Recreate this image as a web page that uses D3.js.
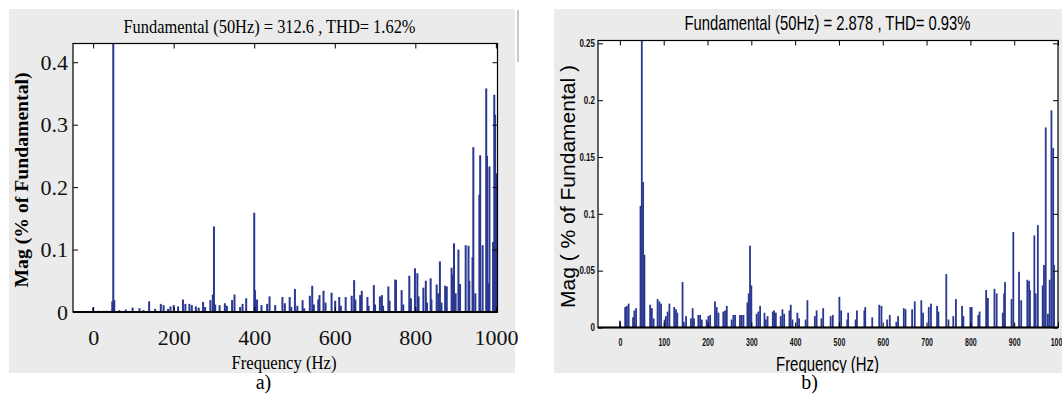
<!DOCTYPE html>
<html>
<head>
<meta charset="utf-8">
<script src="https://cdn.jsdelivr.net/npm/d3@7"></script>
<style>
  html, body { margin: 0; padding: 0; background: #ffffff; }
  svg { display: block; }
</style>
</head>
<body>
<svg id="fig" width="1062" height="394"></svg>
<script>
// ---- Spectrum a): harmonic magnitudes (% of fundamental) vs frequency (Hz)
const freqA = [0, 14, 26, 34, 45, 47.5, 50, 52.5, 65, 81, 98, 115, 125, 139, 154, 168, 175, 186, 192, 200,
  211, 223, 229, 239, 245, 255, 262, 273, 278, 291, 297, 300, 303, 314, 327, 332, 345, 351, 365, 371,
  380, 400, 402, 407, 418, 432, 438, 452, 470, 476, 488, 492, 501, 507, 520, 524, 538, 544, 548, 559,
  562, 572, 577, 592, 601, 611, 615, 627, 642, 648, 651, 663, 667, 681, 684, 697, 700, 712, 717, 720,
  733, 736, 750, 752, 766, 770, 785, 789, 799, 805, 808, 820, 826, 829, 838, 840, 853, 857, 861, 865,
  874, 878, 890, 893, 896, 900, 907, 911, 925, 932, 934, 942, 944, 949, 959, 961, 967, 976, 978, 981,
  984, 993, 996, 998, 1002];
const magA = [0.007, 0.002, 0.002, 0.002, 0.002, 0.017, 100, 0.019, 0.003, 0.004, 0.007, 0.006, 0.003, 0.017, 0.005, 0.013, 0.011, 0.005, 0.009, 0.011,
  0.009, 0.020, 0.013, 0.013, 0.011, 0.009, 0.007, 0.016, 0.008, 0.019, 0.028, 0.137, 0.012, 0.011, 0.014, 0.010, 0.019, 0.028, 0.008, 0.013,
  0.022, 0.159, 0.035, 0.020, 0.011, 0.013, 0.025, 0.011, 0.024, 0.014, 0.024, 0.008, 0.037, 0.010, 0.019, 0.006, 0.026, 0.042, 0.012, 0.020,
  0.027, 0.034, 0.015, 0.031, 0.018, 0.024, 0.010, 0.024, 0.026, 0.051, 0.020, 0.027, 0.034, 0.024, 0.010, 0.043, 0.012, 0.025, 0.027, 0.010,
  0.041, 0.018, 0.052, 0.051, 0.035, 0.012, 0.058, 0.022, 0.070, 0.062, 0.025, 0.039, 0.050, 0.015, 0.054, 0.020, 0.044, 0.030, 0.081, 0.015,
  0.042, 0.041, 0.071, 0.060, 0.110, 0.030, 0.100, 0.045, 0.107, 0.106, 0.050, 0.088, 0.264, 0.030, 0.188, 0.251, 0.107, 0.358, 0.250, 0.046,
  0.233, 0.112, 0.348, 0.316, 0.222];
const xTicksA = [0, 200, 400, 600, 800, 1000];
const yTicksA = [0, 0.1, 0.2, 0.3, 0.4];
const titleA = "Fundamental (50Hz) = 312.6 , THD= 1.62%";

// ---- Spectrum b)
const freqB = [0, 12, 16, 20, 30, 33, 37, 47, 50, 53, 56, 69, 73, 77, 86, 90, 94, 102, 105, 109,
  113, 124, 128, 131, 143, 146, 151, 162, 166, 169, 179, 183, 187, 198, 202, 206, 217, 221, 225, 236,
  240, 244, 255, 259, 263, 274, 278, 282, 291, 294, 297, 300, 312, 316, 320, 330, 333, 337, 349, 352,
  356, 367, 371, 375, 387, 390, 394, 405, 409, 424, 428, 445, 449, 460, 464, 481, 486, 501, 505, 519,
  521, 538, 541, 558, 560, 576, 592, 597, 610, 616, 631, 635, 648, 652, 667, 673, 688, 692, 705, 710,
  724, 727, 745, 750, 761, 767, 781, 784, 800, 803, 818, 821, 836, 840, 855, 860, 874, 877, 879, 894,
  898, 911, 916, 930, 934, 936, 946, 949, 954, 965, 968, 972, 977, 981, 985, 989, 991];
const magB = [0.006, 0.018, 0.019, 0.021, 0.009, 0.015, 0.017, 0.107, 100, 0.128, 0.064, 0.020, 0.017, 0.008, 0.025, 0.023, 0.021, 0.007, 0.010, 0.014,
  0.021, 0.018, 0.016, 0.013, 0.040, 0.005, 0.010, 0.008, 0.017, 0.008, 0.011, 0.011, 0.007, 0.007, 0.010, 0.011, 0.023, 0.018, 0.013, 0.014,
  0.015, 0.019, 0.007, 0.011, 0.011, 0.011, 0.011, 0.011, 0.022, 0.030, 0.072, 0.037, 0.012, 0.014, 0.019, 0.013, 0.007, 0.010, 0.014, 0.015,
  0.013, 0.010, 0.016, 0.012, 0.015, 0.020, 0.007, 0.013, 0.008, 0.007, 0.024, 0.010, 0.015, 0.008, 0.017, 0.010, 0.011, 0.027, 0.015, 0.007,
  0.013, 0.007, 0.015, 0.015, 0.018, 0.009, 0.020, 0.019, 0.007, 0.011, 0.005, 0.010, 0.017, 0.016, 0.016, 0.023, 0.024, 0.013, 0.018, 0.021,
  0.019, 0.014, 0.047, 0.007, 0.010, 0.025, 0.019, 0.010, 0.018, 0.018, 0.011, 0.014, 0.033, 0.026, 0.034, 0.030, 0.013, 0.030, 0.040, 0.025,
  0.084, 0.049, 0.024, 0.042, 0.041, 0.033, 0.081, 0.030, 0.090, 0.037, 0.055, 0.176, 0.012, 0.042, 0.191, 0.158, 0.055];
const xTicksB = [0, 100, 200, 300, 400, 500, 600, 700, 800, 900, 1000];
const yTicksB = [0, 0.05, 0.1, 0.15, 0.2, 0.25];
const titleB = "Fundamental (50Hz) = 2.878 , THD= 0.93%";

const svg = d3.select("#fig");
const BAR_FILL = "#2a3890";

// squeeze text horizontally to a fraction of its natural width
function squeeze(sel, factor) {
  sel.each(function () {
    const w = this.getComputedTextLength();
    this.setAttribute("textLength", (w * factor).toFixed(2));
    this.setAttribute("lengthAdjust", "spacingAndGlyphs");
  });
}
function fitTo(sel, width) {
  sel.attr("textLength", width).attr("lengthAdjust", "spacingAndGlyphs");
}

function drawSpectrum(cfg) {
  const g = svg.append("g");
  const id = cfg.id;

  // grey figure background
  g.append("rect")
    .attr("x", cfg.panel[0]).attr("y", cfg.panel[1])
    .attr("width", cfg.panel[2] - cfg.panel[0]).attr("height", cfg.panel[3] - cfg.panel[1])
    .attr("fill", "#ebebeb");

  const defs = g.append("defs");
  defs.append("clipPath").attr("id", "plot-" + id).append("rect")
    .attr("x", cfg.left).attr("y", cfg.top)
    .attr("width", cfg.right - cfg.left).attr("height", cfg.bottom - cfg.top);
  defs.append("clipPath").attr("id", "panel-" + id).append("rect")
    .attr("x", cfg.panel[0]).attr("y", cfg.panel[1])
    .attr("width", cfg.panel[2] - cfg.panel[0]).attr("height", cfg.panel[3] - cfg.panel[1]);

  const x = d3.scaleLinear().domain(cfg.xDomain).range([cfg.left, cfg.right]);
  const y = d3.scaleLinear().domain([0, cfg.yMax]).range([cfg.bottom, cfg.top]);

  // plot area
  g.append("rect")
    .attr("x", cfg.left).attr("y", cfg.top)
    .attr("width", cfg.right - cfg.left).attr("height", cfg.bottom - cfg.top)
    .attr("fill", "#ffffff");

  // harmonic bars
  const data = cfg.freq.map((f, i) => ({ f, m: cfg.mag[i] }));
  g.append("g").attr("clip-path", `url(#plot-${id})`)
    .selectAll("rect").data(data).join("rect")
    .attr("x", d => x(d.f) - cfg.barW / 2)
    .attr("width", cfg.barW)
    .attr("y", d => y(Math.min(d.m, cfg.yMax * 1.02)))
    .attr("height", d => y(0) - y(Math.min(d.m, cfg.yMax * 1.02)))
    .attr("fill", BAR_FILL);

  // axes with inward ticks on all four sides
  const ax = (axis, tr) => {
    const a = g.append("g").attr("transform", tr).call(axis);
    a.select(".domain").remove();
    a.selectAll("line").attr("stroke", "#000").attr("stroke-width", 1);
    return a;
  };
  const bottom = ax(d3.axisBottom(x).tickValues(cfg.xTicks).tickSizeInner(-cfg.tick).tickSizeOuter(0)
      .tickPadding(cfg.xPad).tickFormat(d3.format("d")), `translate(0,${cfg.bottom})`);
  const left = ax(d3.axisLeft(y).tickValues(cfg.yTicks).tickSizeInner(-cfg.tick).tickSizeOuter(0)
      .tickPadding(cfg.yPad).tickFormat(cfg.yFormat), `translate(${cfg.left},0)`);
  ax(d3.axisTop(x).tickValues(cfg.xTicks).tickSizeInner(-cfg.tick).tickSizeOuter(0).tickFormat(""),
      `translate(0,${cfg.top})`);
  ax(d3.axisRight(y).tickValues(cfg.yTicks).tickSizeInner(-cfg.tick).tickSizeOuter(0).tickFormat(""),
      `translate(${cfg.right},0)`);

  [bottom, left].forEach(a => a.selectAll("text")
    .attr("font-family", cfg.tickFont).attr("font-size", cfg.tickSize)
    .attr("font-weight", cfg.tickWeight)
    .attr("fill", "#111"));
  if (cfg.xSqueeze) squeeze(bottom.selectAll("text"), cfg.xSqueeze);
  if (cfg.ySqueeze) squeeze(left.selectAll("text"), cfg.ySqueeze);

  // frame
  g.append("rect")
    .attr("x", cfg.left).attr("y", cfg.top)
    .attr("width", cfg.right - cfg.left).attr("height", cfg.bottom - cfg.top)
    .attr("fill", "none").attr("stroke", "#000").attr("stroke-width", 1.2);
  g.append("line")
    .attr("x1", cfg.left).attr("x2", cfg.right)
    .attr("y1", cfg.bottom).attr("y2", cfg.bottom)
    .attr("stroke", "#000").attr("stroke-width", 2);

  // title
  g.append("text")
    .attr("x", cfg.title.x).attr("y", cfg.title.y)
    .attr("text-anchor", "middle")
    .attr("font-family", cfg.labelFont).attr("font-size", cfg.title.size)
    .attr("fill", "#000")
    .text(cfg.title.text)
    .call(fitTo, cfg.title.w);

  // x label (kept inside the grey figure area)
  g.append("g").attr("clip-path", `url(#panel-${id})`)
    .append("text")
    .attr("x", cfg.xLabel.x).attr("y", cfg.xLabel.y)
    .attr("text-anchor", "middle")
    .attr("font-family", cfg.labelFont).attr("font-size", cfg.xLabel.size)
    .attr("fill", "#000")
    .text("Frequency (Hz)")
    .call(fitTo, cfg.xLabel.w);

  // y label
  g.append("text")
    .attr("transform", `translate(${cfg.yLabel.x},${cfg.yLabel.y}) rotate(-90)`)
    .attr("text-anchor", "middle")
    .attr("dominant-baseline", "central")
    .attr("font-family", cfg.labelFont).attr("font-size", cfg.yLabel.size)
    .attr("font-weight", cfg.yLabel.weight)
    .attr("fill", "#000")
    .text(cfg.yLabel.text)
    .call(fitTo, cfg.yLabel.w);

  // panel caption below the figure
  svg.append("text")
    .attr("x", cfg.caption.x).attr("y", cfg.caption.y)
    .attr("text-anchor", "middle")
    .attr("font-family", "'Liberation Serif', 'DejaVu Serif', serif")
    .attr("font-size", 20)
    .attr("fill", "#000")
    .text(cfg.caption.text);
}

drawSpectrum({
  id: "a",
  freq: freqA, mag: magA, xTicks: xTicksA, yTicks: yTicksA,
  panel: [9, 9, 515, 373],
  left: 73, right: 497.5, top: 43.5, bottom: 312,
  xDomain: [-50, 1004], yMax: 0.43,
  barW: 2.0, tick: 5,
  xPad: 17, yPad: 5,
  yFormat: d3.format(".1~f"),
  tickFont: "'Liberation Serif', 'DejaVu Serif', serif", tickSize: 22, tickWeight: "normal",
  labelFont: "'Liberation Serif', 'DejaVu Serif', serif",
  title: { text: titleA, x: 269.5, y: 33, size: 19, w: 292 },
  xLabel: { x: 284, y: 369, size: 19, w: 105 },
  yLabel: { text: "Mag (% of Fundamental)", x: 21, y: 180, size: 19, w: 215, weight: "bold" },
  caption: { text: "a)", x: 263.5, y: 389 }
});

drawSpectrum({
  id: "b",
  freq: freqB, mag: magB, xTicks: xTicksB, yTicks: yTicksB,
  panel: [554, 9, 1062, 373],
  left: 598, right: 1058, top: 40.5, bottom: 327.5,
  xDomain: [-50, 1000], yMax: 0.2525,
  barW: 1.8, tick: 5,
  xPad: 11, yPad: 3,
  yFormat: d3.format(".2~f"),
  tickFont: "'Liberation Sans', Arial, sans-serif", tickSize: 10, tickWeight: "bold",
  xSqueeze: 0.7, ySqueeze: 0.8,
  labelFont: "'Liberation Sans', Arial, sans-serif",
  title: { text: titleB, x: 827.5, y: 30, size: 21, w: 286 },
  xLabel: { x: 827.5, y: 371, size: 20, w: 103 },
  yLabel: { text: "Mag ( % of Fundamental )", x: 567.5, y: 186.5, size: 20, w: 243, weight: "normal" },
  caption: { text: "b)", x: 809.5, y: 389 }
});

// thin scrollbar edge at the right of figure a)
svg.append("line")
  .attr("x1", 518).attr("x2", 518).attr("y1", 10).attr("y2", 62)
  .attr("stroke", "#c8c8c8").attr("stroke-width", 2);
</script>
</body>
</html>
